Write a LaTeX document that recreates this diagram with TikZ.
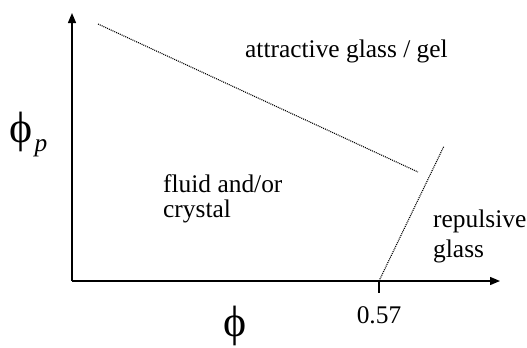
\documentclass[tikz,border=0pt]{standalone}
\usepackage{fontspec}
\setmainfont{Liberation Serif}
\usetikzlibrary{arrows.meta}
\begin{document}
\begin{tikzpicture}[x=1bp,y=1bp,
  axis/.style={line width=1.4bp,-{Triangle[length=10bp,width=8bp]}},
  bound/.style={line width=1.1bp,dash pattern=on 1bp off 1bp},
  lbl/.style={font=\fontsize{25.5}{30}\selectfont,inner sep=0pt,anchor=base west},
  phi/.style={font=\fontsize{44}{50}\selectfont,inner sep=0pt}]
\useasboundingbox (0,0) rectangle (527,347);
\coordinate (O) at (72,66);
\coordinate (ytip) at (72,334);
\coordinate (xtip) at (500,66);
\draw[axis] (O) -- (ytip);
\draw[axis] (O) -- (xtip);
\coordinate (t1) at (379,66);
\coordinate (t2) at (379,54);
\draw[line width=1.4bp] (t1) -- (t2);
\coordinate (a1) at (98,323);
\coordinate (a2) at (418,175);
\draw[bound] (a1) -- (a2);
\coordinate (b2) at (444,201);
\draw[bound] (t1) -- (b2);
\node[lbl] (att) at (245,290) {attractive glass / gel};
\node[lbl] (fl1) at (163,155) {fluid and/or};
\node[lbl] (fl2) at (163,130) {crystal};
\node[lbl] (rep1) at (433,120) {repulsive};
\node[lbl] (rep2) at (433,90) {glass};
\node[lbl,anchor=base] (tick) at (379,24) {0.57};
\node[phi,anchor=base west] (phip) at (9,205) {ϕ};
\node[lbl,anchor=base west,font=\fontsize{25.5}{30}\selectfont\itshape] (p) at (phip.base east) {\hspace{2bp}\raisebox{-9bp}{p}};
\node[phi,anchor=base] (phix) at (235,11) {ϕ};
\end{tikzpicture}
\end{document}
